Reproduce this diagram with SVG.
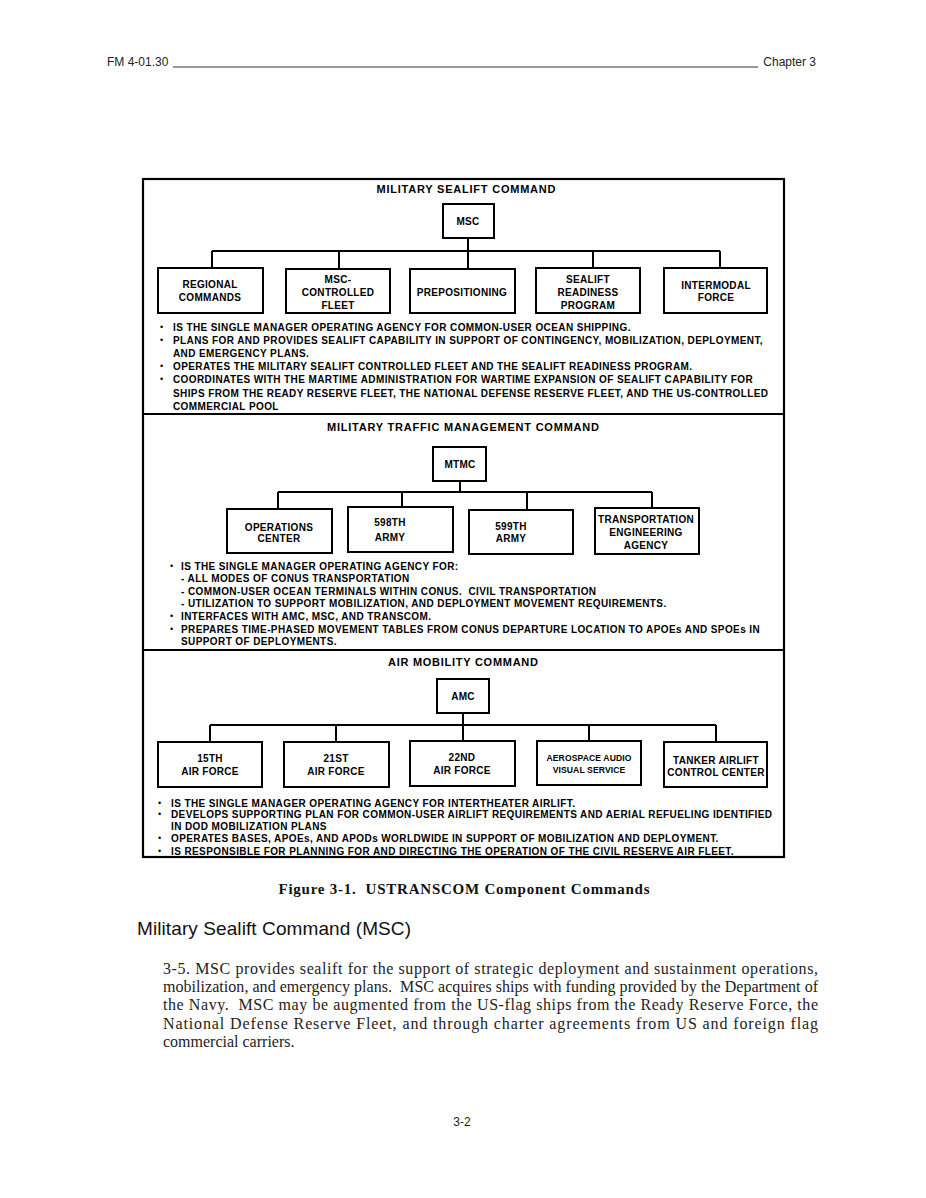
<svg xmlns="http://www.w3.org/2000/svg" width="926" height="1198" viewBox="0 0 926 1198">
<style>
.frame{fill:none;stroke:#000;stroke-width:2.2}
.box{fill:#fff;stroke:#000;stroke-width:2}
.conn{fill:none;stroke:#000;stroke-width:2}
.lbl{font-family:"Liberation Sans",Arial,sans-serif;font-weight:bold;font-size:10px;text-anchor:middle;letter-spacing:0.3px;fill:#000}
.sm{font-size:8.6px;letter-spacing:0.1px}
.ttl{font-family:"Liberation Sans",Arial,sans-serif;font-weight:bold;font-size:11px;text-anchor:middle;fill:#000}
.bul{font-family:"Liberation Sans",Arial,sans-serif;font-weight:bold;font-size:10px;letter-spacing:0.4px;fill:#000}
.dot{font-family:"Liberation Sans",Arial,sans-serif;font-size:9px;fill:#000}
.hdr{font-family:"Liberation Sans",Arial,sans-serif;font-size:12px;fill:#222}
.cap{font-family:"Liberation Serif","Times New Roman",serif;font-weight:bold;font-size:15px;text-anchor:middle;fill:#111}
.h2{font-family:"Liberation Sans",Arial,sans-serif;font-size:19px;fill:#111}
.para{font-family:"Liberation Serif","Times New Roman",serif;font-size:16px;fill:#222}
</style>
<rect width="926" height="1198" fill="#fff"/>
<g id="page-header">
<text class="hdr" x="107" y="66">FM 4-01.30</text>
<line x1="173" y1="67" x2="758" y2="67" stroke="#333" stroke-width="1"/>
<text class="hdr" x="816" y="66" text-anchor="end">Chapter 3</text>
</g>
<g id="frame">
<rect class="frame" x="143" y="179" width="641" height="678"/>
<line class="frame" x1="143" y1="414" x2="784" y2="414"/>
<line class="frame" x1="143" y1="650" x2="784" y2="650"/>
</g>
<g id="connectors">
<path class="conn" d="M468 238V251M212 251H720M212 251V268M339 251V269M468 251V269M593 251V268M720 251V268"/>
<path class="conn" d="M460 481V492M278 492H652M278 492V509M402 492V507M527 492V510M652 492V508"/>
<path class="conn" d="M463 713V725M210 725H716M210 725V742M336 725V742M463 725V741M589 725V741M716 725V742"/>
</g>
<g id="msc-section">
<text class="ttl" x="466" y="193" textLength="179">MILITARY SEALIFT COMMAND</text>
<g id="msc"><rect class="box" x="443" y="204" width="51" height="34"/><text class="lbl" x="468" y="225">MSC</text></g>
<g id="regional-commands"><rect class="box" x="158" y="268" width="105" height="45"/><text class="lbl" x="210" y="288">REGIONAL</text><text class="lbl" x="210" y="301">COMMANDS</text></g>
<g id="msc-controlled-fleet"><rect class="box" x="286" y="269" width="104" height="44"/><text class="lbl" x="338" y="283">MSC-</text><text class="lbl" x="338" y="296">CONTROLLED</text><text class="lbl" x="338" y="309">FLEET</text></g>
<g id="prepositioning"><rect class="box" x="410" y="269" width="105" height="44"/><text class="lbl" x="462" y="296">PREPOSITIONING</text></g>
<g id="sealift-readiness-program"><rect class="box" x="536" y="268" width="104" height="45"/><text class="lbl" x="588" y="283">SEALIFT</text><text class="lbl" x="588" y="296">READINESS</text><text class="lbl" x="588" y="309">PROGRAM</text></g>
<g id="intermodal-force"><rect class="box" x="664" y="268" width="103" height="45"/><text class="lbl" x="716" y="289">INTERMODAL</text><text class="lbl" x="716" y="301">FORCE</text></g>
<g id="msc-notes">
<text class="dot" x="160" y="330">•</text><text class="bul" x="173" y="331">IS THE SINGLE MANAGER OPERATING AGENCY FOR COMMON-USER OCEAN SHIPPING.</text>
<text class="dot" x="160" y="343">•</text><text class="bul" x="173" y="344">PLANS FOR AND PROVIDES SEALIFT CAPABILITY IN SUPPORT OF CONTINGENCY, MOBILIZATION, DEPLOYMENT,</text>
<text class="bul" x="173" y="357">AND EMERGENCY PLANS.</text>
<text class="dot" x="160" y="369">•</text><text class="bul" x="173" y="370">OPERATES THE MILITARY SEALIFT CONTROLLED FLEET AND THE SEALIFT READINESS PROGRAM.</text>
<text class="dot" x="160" y="382">•</text><text class="bul" x="173" y="383">COORDINATES WITH THE MARTIME ADMINISTRATION FOR WARTIME EXPANSION OF SEALIFT CAPABILITY FOR</text>
<text class="bul" x="173" y="397">SHIPS FROM THE READY RESERVE FLEET, THE NATIONAL DEFENSE RESERVE FLEET, AND THE US-CONTROLLED</text>
<text class="bul" x="173" y="410">COMMERCIAL POOL</text>
</g>
</g>
<g id="mtmc-section">
<text class="ttl" x="463" y="431" textLength="272">MILITARY TRAFFIC MANAGEMENT COMMAND</text>
<g id="mtmc"><rect class="box" x="433" y="447" width="53" height="34"/><text class="lbl" x="460" y="468">MTMC</text></g>
<g id="operations-center"><rect class="box" x="227" y="509" width="105" height="44"/><text class="lbl" x="279" y="531">OPERATIONS</text><text class="lbl" x="279" y="542">CENTER</text></g>
<g id="army-598th"><rect class="box" x="348" y="507" width="105" height="45"/><text class="lbl" x="390" y="526">598TH</text><text class="lbl" x="390" y="541">ARMY</text></g>
<g id="army-599th"><rect class="box" x="469" y="510" width="104" height="44"/><text class="lbl" x="511" y="530">599TH</text><text class="lbl" x="511" y="542">ARMY</text></g>
<g id="transportation-engineering-agency"><rect class="box" x="595" y="508" width="104" height="46"/><text class="lbl" x="646" y="523">TRANSPORTATION</text><text class="lbl" x="646" y="536">ENGINEERING</text><text class="lbl" x="646" y="549">AGENCY</text></g>
<g id="mtmc-notes">
<text class="dot" x="170" y="569">•</text><text class="bul" x="181" y="570">IS THE SINGLE MANAGER OPERATING AGENCY FOR:</text>
<text class="bul" x="181" y="582">- ALL MODES OF CONUS TRANSPORTATION</text>
<text class="bul" x="181" y="595" xml:space="preserve">- COMMON-USER OCEAN TERMINALS WITHIN CONUS.  CIVIL TRANSPORTATION</text>
<text class="bul" x="181" y="607">- UTILIZATION TO SUPPORT MOBILIZATION, AND DEPLOYMENT MOVEMENT REQUIREMENTS.</text>
<text class="dot" x="170" y="619">•</text><text class="bul" x="181" y="620">INTERFACES WITH AMC, MSC, AND TRANSCOM.</text>
<text class="dot" x="170" y="632">•</text><text class="bul" x="181" y="633">PREPARES TIME-PHASED MOVEMENT TABLES FROM CONUS DEPARTURE LOCATION TO APOEs AND SPOEs IN</text>
<text class="bul" x="181" y="645">SUPPORT OF DEPLOYMENTS.</text>
</g>
</g>
<g id="amc-section">
<text class="ttl" x="463" y="666" textLength="150">AIR MOBILITY COMMAND</text>
<g id="amc"><rect class="box" x="437" y="679" width="52" height="34"/><text class="lbl" x="463" y="700">AMC</text></g>
<g id="air-force-15th"><rect class="box" x="158" y="742" width="104" height="45"/><text class="lbl" x="210" y="762">15TH</text><text class="lbl" x="210" y="775">AIR FORCE</text></g>
<g id="air-force-21st"><rect class="box" x="284" y="742" width="105" height="45"/><text class="lbl" x="336" y="762">21ST</text><text class="lbl" x="336" y="775">AIR FORCE</text></g>
<g id="air-force-22nd"><rect class="box" x="410" y="741" width="105" height="45"/><text class="lbl" x="462" y="761">22ND</text><text class="lbl" x="462" y="774">AIR FORCE</text></g>
<g id="aerospace-audio-visual-service"><rect class="box" x="537" y="741" width="104" height="44"/><text class="lbl sm" x="589" y="761">AEROSPACE AUDIO</text><text class="lbl sm" x="589" y="773">VISUAL SERVICE</text></g>
<g id="tanker-airlift-control-center"><rect class="box" x="664" y="742" width="103" height="45"/><text class="lbl" x="716" y="764">TANKER AIRLIFT</text><text class="lbl" x="716" y="776">CONTROL CENTER</text></g>
<g id="amc-notes">
<text class="dot" x="158" y="806">•</text><text class="bul" x="171" y="807">IS THE SINGLE MANAGER OPERATING AGENCY FOR INTERTHEATER AIRLIFT.</text>
<text class="dot" x="158" y="817">•</text><text class="bul" x="171" y="818">DEVELOPS SUPPORTING PLAN FOR COMMON-USER AIRLIFT REQUIREMENTS AND AERIAL REFUELING IDENTIFIED</text>
<text class="bul" x="171" y="830">IN DOD MOBILIZATION PLANS</text>
<text class="dot" x="158" y="841">•</text><text class="bul" x="171" y="842">OPERATES BASES, APOEs, AND APODs WORLDWIDE IN SUPPORT OF MOBILIZATION AND DEPLOYMENT.</text>
<text class="dot" x="158" y="854">•</text><text class="bul" x="171" y="855">IS RESPONSIBLE FOR PLANNING FOR AND DIRECTING THE OPERATION OF THE CIVIL RESERVE AIR FLEET.</text>
</g>
</g>
<g id="caption">
<text class="cap" x="464" y="894" textLength="371" xml:space="preserve">Figure 3-1.  USTRANSCOM Component Commands</text>
</g>
<g id="body-text">
<text class="h2" x="137" y="935" textLength="274">Military Sealift Command (MSC)</text>
<text class="para" x="163" y="974" textLength="655" lengthAdjust="spacing">3-5. MSC provides sealift for the support of strategic deployment and sustainment operations,</text>
<text class="para" x="163" y="992" textLength="655" lengthAdjust="spacing" xml:space="preserve">mobilization, and emergency plans.  MSC acquires ships with funding provided by the Department of</text>
<text class="para" x="163" y="1010" textLength="655" lengthAdjust="spacing" xml:space="preserve">the Navy.  MSC may be augmented from the US-flag ships from the Ready Reserve Force, the</text>
<text class="para" x="163" y="1029" textLength="655" lengthAdjust="spacing">National Defense Reserve Fleet, and through charter agreements from US and foreign flag</text>
<text class="para" x="163" y="1047">commercial carriers.</text>
</g>
<g id="page-footer">
<text class="hdr" x="462" y="1126" text-anchor="middle">3-2</text>
</g>
</svg>
